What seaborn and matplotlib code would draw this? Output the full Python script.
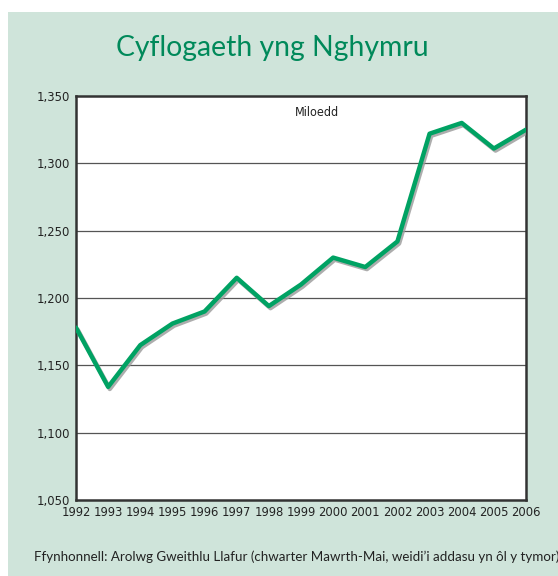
import matplotlib
matplotlib.use("Agg")
import matplotlib.pyplot as plt
import matplotlib.patheffects as pe
import seaborn as sns
import pandas as pd

# Cyflogaeth yng Nghymru (miloedd)
years = [1992, 1993, 1994, 1995, 1996, 1997, 1998, 1999, 2000, 2001, 2002, 2003, 2004, 2005, 2006]
employment = [1178, 1134, 1165, 1181, 1190, 1215, 1194, 1210, 1230, 1223, 1242, 1322, 1330, 1311, 1325]
y_ticks = [1050, 1100, 1150, 1200, 1250, 1300, 1350]
y_labels = ["1,050", "1,100", "1,150", "1,200", "1,250", "1,300", "1,350"]

df = pd.DataFrame({"year": years, "value": employment})

sns.set_style("white")
plt.rcParams["font.family"] = ["Lato", "DejaVu Sans"]

bg = "#cfe4da"
green = "#00a263"
narrow = dict(family=["DejaVu Sans"], fontstretch="condensed")

fig = plt.figure(figsize=(5.58, 5.76), dpi=100)
fig.patches.append(plt.Rectangle((8 / 558, 0), 1, 1 - 12 / 576, transform=fig.transFigure,
                                 facecolor=bg, edgecolor="none", zorder=-10))

ax = fig.add_axes([76 / 558, 1 - 500 / 576, 450 / 558, 404 / 576])
ax.set_zorder(5)
ax.set_facecolor("white")

sns.lineplot(data=df, x="year", y="value", ax=ax, color=green, linewidth=3.2, zorder=3,
             path_effects=[pe.SimpleLineShadow(offset=(1.2, -1.5), shadow_color="#999999", alpha=0.8),
                           pe.Normal()])

ax.set_xlim(1992, 2006)
ax.set_ylim(1050, 1350)
ax.set_xticks(years)
ax.set_xticklabels([str(y) for y in years], fontsize=9.3, **narrow)
ax.set_yticks(y_ticks)
ax.set_yticklabels(y_labels, fontsize=9.3, **narrow)
ax.tick_params(axis="both", direction="out", length=3, width=1.2, color="#333333", pad=1, labelcolor="#222222")
ax.set_xlabel("")
ax.set_ylabel("")

for v in y_ticks[1:-1]:
    ax.axhline(v, color="#555555", linewidth=0.9, zorder=1)

for s in ax.spines.values():
    s.set_color("#333333")
    s.set_linewidth(1.8)

ax.text(1999.5, 1338, "Miloedd", fontsize=9, color="#222222", ha="center", va="center", **narrow)

fig.text(272 / 558, 1 - 48 / 576, "Cyflogaeth yng Nghymru", fontsize=20.4, color="#00895a",
         ha="center", va="center")
fig.text(34 / 558, 1 - 557 / 576,
         "Ffynhonnell: Arolwg Gweithlu Llafur (chwarter Mawrth-Mai, weidi\u2019i addasu yn \u00f4l y tymor)",
         fontsize=9.6, color="#222222", ha="left", va="center")

fig.savefig("out.png", dpi=100)
